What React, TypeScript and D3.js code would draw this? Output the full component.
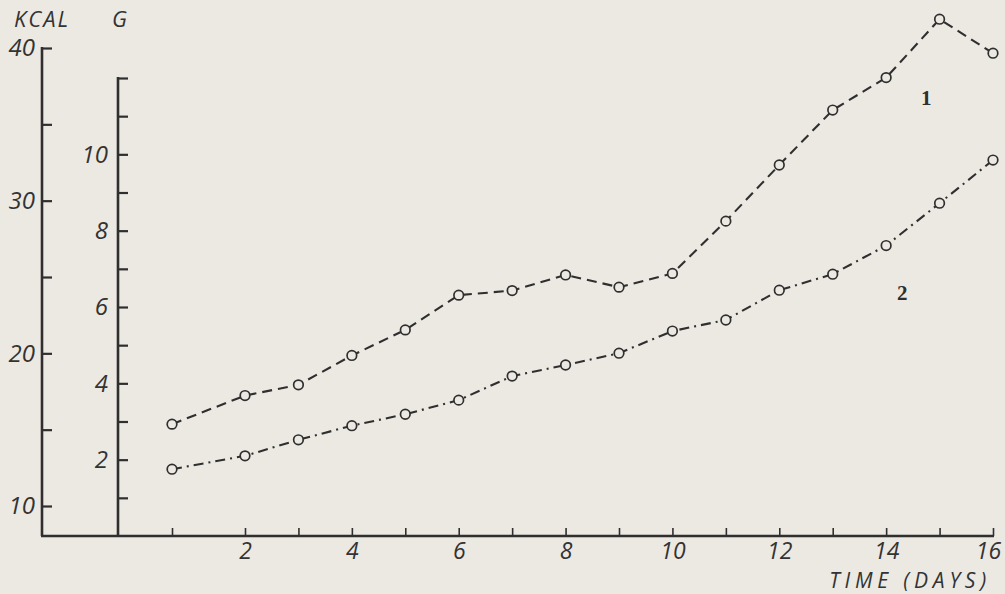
import React, { useEffect, useRef } from "react";
import * as d3 from "d3";

// days on the x axis
const days = [1, 2, 3, 4, 5, 6, 7, 8, 9, 10, 11, 12, 13, 14, 15, 16];
// curve 1 (dashed) and curve 2 (dash-dot), read in G units
const series1 = [2.93, 3.68, 3.96, 4.73, 5.4, 6.31, 6.43, 6.84, 6.52, 6.88, 8.25, 9.72, 11.16, 12.01, 13.54, 12.65];
const series2 = [1.75, 2.1, 2.52, 2.89, 3.19, 3.56, 4.19, 4.48, 4.79, 5.37, 5.66, 6.44, 6.86, 7.61, 8.72, 9.85];

const kcalTicks = [10, 15, 20, 25, 30, 35, 40];
const kcalLabels = [10, 20, 30, 40];
const gTicks = [1, 2, 3, 4, 5, 6, 7, 8, 9, 10, 11, 12];
const gLabels = [2, 4, 6, 8, 10];
const dayLabels = [2, 4, 6, 8, 10, 12, 14, 16];

const paper = "#ece9e3";
const ink = "#2f2f2f";
const textInk = "#333";
const font = "'Open Sans', 'DejaVu Sans', sans-serif";

export default function App() {
	const ref = useRef<SVGSVGElement>(null);

	useEffect(() => {
		const svg = d3.select(ref.current);
		svg.selectAll("*").remove();

		const x = d3.scaleLinear().domain([1, 2, 16]).range([172, 245, 993]);
		const g = d3.scaleLinear().domain([0, 12]).range([536, 78]);
		const kcal = d3.scaleLinear().domain([10, 40]).range([506, 48]);
		const base = g(0);

		function styleAxis(sel: any, tickWidth: number, size: number) {
			sel.select(".domain").remove();
			sel.selectAll(".tick line").attr("stroke", ink).attr("stroke-width", tickWidth);
			sel.selectAll(".tick text")
				.attr("fill", textInk)
				.style("font-family", font)
				.style("font-style", "italic")
				.style("font-weight", 400)
				.style("font-size", `${size}px`);
		}

		// KCAL axis
		const kAxis = svg.append("g")
			.attr("transform", "translate(42,0)")
			.call(
				d3.axisLeft(kcal)
					.tickValues(kcalTicks)
					.tickSizeInner(-10)
					.tickSizeOuter(0)
					.tickPadding(7)
					.tickFormat((d: any) => (kcalLabels.includes(+d) ? String(d) : ""))
			);
		styleAxis(kAxis, 2.2, 24);
		svg.append("line")
			.attr("x1", 42).attr("x2", 42)
			.attr("y1", kcal(40) - 1).attr("y2", base)
			.attr("stroke", ink).attr("stroke-width", 2.6);

		// G axis
		const gAxis = svg.append("g")
			.attr("transform", "translate(118,0)")
			.call(
				d3.axisLeft(g)
					.tickValues(gTicks)
					.tickSizeInner(-10)
					.tickSizeOuter(0)
					.tickPadding(10)
					.tickFormat((d: any) => (gLabels.includes(+d) ? String(d) : ""))
			);
		styleAxis(gAxis, 2.2, 24);
		svg.append("line")
			.attr("x1", 118).attr("x2", 118)
			.attr("y1", g(12) - 1).attr("y2", base)
			.attr("stroke", ink).attr("stroke-width", 2.6);

		// time axis
		const xAxis = svg.append("g")
			.attr("transform", `translate(0,${base})`)
			.call(
				d3.axisBottom(x)
					.tickValues(days)
					.tickSizeInner(-8)
					.tickSizeOuter(0)
					.tickPadding(7)
					.tickFormat((d: any) => (dayLabels.includes(+d) ? String(d) : ""))
			);
		styleAxis(xAxis, 1.6, 23);
		xAxis.selectAll(".tick text").filter((d: any) => d === 16).attr("dx", -5);
		svg.append("line")
			.attr("x1", 41).attr("x2", x(16) + 1)
			.attr("y1", base).attr("y2", base)
			.attr("stroke", ink).attr("stroke-width", 2.6);

		// axis titles
		const title = (t: string, tx: number, ty: number, size: number, spacing: number, anchor = "start") =>
			svg.append("text")
				.attr("x", tx).attr("y", ty)
				.attr("text-anchor", anchor)
				.attr("fill", textInk)
				.style("font-family", font)
				.style("font-style", "italic")
				.style("font-size", `${size}px`)
				.style("letter-spacing", `${spacing}px`)
				.text(t);
		title("KCAL", 14, 27, 22, 2);
		title("G", 112, 27, 22, 0);
		title("TIME (DAYS)", 991, 588, 21, 4.8, "end");

		// curves
		const line = d3.line<number>()
			.x((d, i) => x(days[i]))
			.y((d) => g(d));

		const curves = [
			{ values: series1, dash: "10,6" },
			{ values: series2, dash: "10,5,2,5" },
		];
		curves.forEach((c) => {
			svg.append("path")
				.datum(c.values)
				.attr("d", line)
				.attr("fill", "none")
				.attr("stroke", ink)
				.attr("stroke-width", 2.1)
				.attr("stroke-dasharray", c.dash);
			svg.append("g")
				.selectAll("circle")
				.data(c.values)
				.enter()
				.append("circle")
				.attr("cx", (d, i) => x(days[i]))
				.attr("cy", (d) => g(d))
				.attr("r", 4.8)
				.attr("fill", paper)
				.attr("stroke", ink)
				.attr("stroke-width", 1.7);
		});

		// curve numbers
		const num = (t: string, day: number, val: number) =>
			svg.append("text")
				.attr("x", x(day)).attr("y", g(val))
				.attr("text-anchor", "middle")
				.attr("dominant-baseline", "central")
				.attr("fill", ink)
				.style("font-family", "'Liberation Serif', 'DejaVu Serif', serif")
				.style("font-weight", "bold")
				.style("font-size", "21px")
				.text(t);
		num("1", 14.75, 11.47);
		num("2", 14.3, 6.37);
	}, []);

	return (
		<svg
			ref={ref}
			width={1005}
			height={594}
			style={{ position: "fixed", left: 0, top: 0, background: paper }}
		/>
	);
}
